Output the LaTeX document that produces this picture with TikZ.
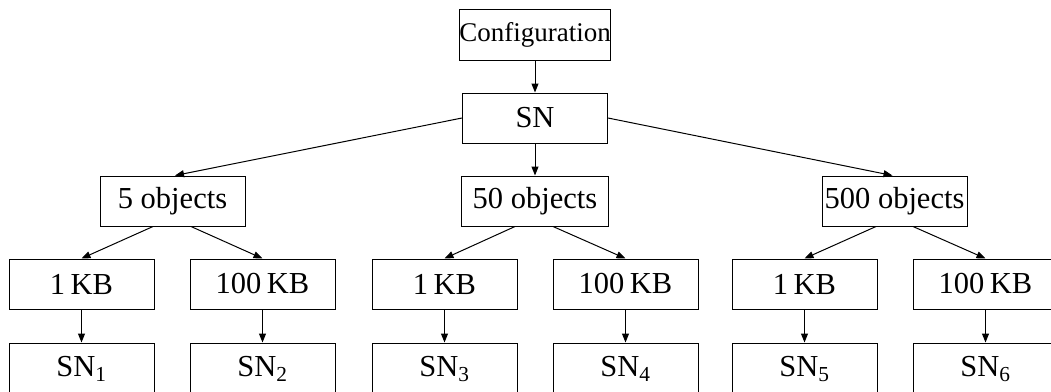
\documentclass[tikz,border=0pt]{standalone}
\usepackage{fontspec}
\setmainfont{Liberation Serif}
\usetikzlibrary{arrows.meta,calc}

\tikzset{
  box/.style={draw=black, line width=1pt, inner sep=0pt, minimum height=50pt,
              minimum width=145pt, font=\fontsize{30.5}{32}\selectfont},
  conn/.style={line width=1pt, -{Triangle[length=9pt,width=7pt]}},
}

\newcommand{\kb}[1]{#1\hspace{0.18em}KB}

\begin{document}
\begin{tikzpicture}[x=1pt,y=-1pt]
  \useasboundingbox (0,0) rectangle (1051,391);
  \clip (0,0) rectangle (1051,391);

  % top of the tree
  \node[box, minimum height=51pt, font=\fontsize{27}{29}\selectfont] (conf) at (535,34.5) {Configuration};
  \node[box] (sn) at (535,118) {SN};

  % object counts
  \node[box]                      (o5)   at (172.5,201) {5 objects};
  \node[box, minimum width=147pt] (o50)  at (535,201)   {50 objects};
  \node[box]                      (o500) at (894.5,201) {500 objects};

  % object sizes
  \node[box] (k1) at (81.5,284)  {\kb{1}};
  \node[box] (k2) at (262.5,284) {\kb{100}};
  \node[box] (k3) at (444.5,284) {\kb{1}};
  \node[box] (k4) at (625.5,284) {\kb{100}};
  \node[box] (k5) at (804.5,284) {\kb{1}};
  \node[box] (k6) at (985.5,284) {\kb{100}};

  % resulting storage nodes
  \node[box, minimum height=52pt] (s1) at (81.5,369)  {SN\textsubscript{1}};
  \node[box, minimum height=52pt] (s2) at (262.5,369) {SN\textsubscript{2}};
  \node[box, minimum height=52pt] (s3) at (444.5,369) {SN\textsubscript{3}};
  \node[box, minimum height=52pt] (s4) at (625.5,369) {SN\textsubscript{4}};
  \node[box, minimum height=52pt] (s5) at (804.5,369) {SN\textsubscript{5}};
  \node[box, minimum height=52pt] (s6) at (985.5,369) {SN\textsubscript{6}};

  % connectors
  \draw[conn] (conf.south) -- (sn.north);
  \draw[conn] (sn.west) -- ($(o5.north)+(2.5,0)$);
  \draw[conn] (sn.south) -- (o50.north);
  \draw[conn] (sn.east) -- ($(o500.north)+(-2,0)$);

  \draw[conn] ($(o5.south)+(-19.5,0)$) -- (k1.north);
  \draw[conn] ($(o5.south)+(18.5,0)$)  -- (k2.north);
  \draw[conn] ($(o50.south)+(-20,0)$)  -- (k3.north);
  \draw[conn] ($(o50.south)+(18,0)$)   -- (k4.north);
  \draw[conn] ($(o500.south)+(-18.5,0)$) -- (k5.north);
  \draw[conn] ($(o500.south)+(18.5,0)$)  -- (k6.north);

  \foreach \i in {1,...,6} {
    \draw[conn] (k\i.south) -- (s\i.north);
  }
\end{tikzpicture}
\end{document}
